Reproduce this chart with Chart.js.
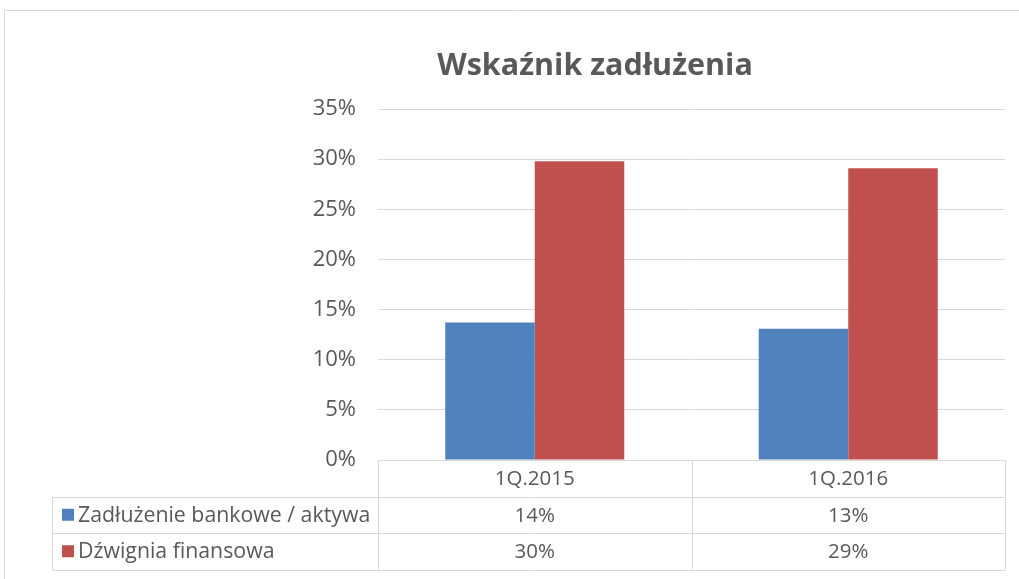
<!DOCTYPE html>
<html>
<head>
<meta charset="utf-8">
<script src="https://cdn.jsdelivr.net/npm/chart.js@4.4.0/dist/chart.umd.min.js"></script>
<style>
  html, body { margin: 0; padding: 0; background: #fff; }
  canvas { display: block; }
</style>
</head>
<body>
<canvas id="debtChart" width="1019" height="579"></canvas>
<script>
const categories = ['1Q.2015', '1Q.2016'];
const seriesNames = ['Zadłużenie bankowe / aktywa', 'Dźwignia finansowa'];
const bankDebt = [0.137, 0.131];
const leverage = [0.298, 0.291];
const seriesColors = ['#4f81bd', '#c0504d'];
const chartTitle = 'Wskaźnik zadłużenia';

const textColor = '#595959';
const lineColor = '#d9d9d9';
const fontFamily = '"Open Sans", sans-serif';

function pct(v) {
  return Math.round(v * 100) + '%';
}

// Draws the outer frame, the title and the data table under the plot
const dataTablePlugin = {
  id: 'dataTable',
  afterDraw(chart) {
    const ctx = chart.ctx;
    const area = chart.chartArea;
    const xScale = chart.scales.x;
    const rowH = 36.5;
    const top = area.bottom;
    const rows = [top, top + rowH, top + rowH * 2, top + rowH * 3];
    const legendLeft = 52;

    ctx.save();
    ctx.strokeStyle = lineColor;
    ctx.lineWidth = 1;

    // outer chart frame
    ctx.beginPath();
    ctx.moveTo(4.5, 600);
    ctx.lineTo(4.5, 10.5);
    ctx.lineTo(1030, 10.5);
    ctx.stroke();

    // title
    ctx.fillStyle = textColor;
    ctx.font = 'bold 30.5px ' + fontFamily;
    ctx.textAlign = 'center';
    ctx.textBaseline = 'middle';
    ctx.fillText(chartTitle, 595, 66);

    // horizontal table lines
    ctx.beginPath();
    ctx.moveTo(area.left, Math.round(rows[0]) + 0.5);
    ctx.lineTo(area.right, Math.round(rows[0]) + 0.5);
    for (let i = 1; i < rows.length; i++) {
      const y = Math.round(rows[i]) + 0.5;
      ctx.moveTo(legendLeft, y);
      ctx.lineTo(area.right, y);
    }
    // vertical table lines
    const bounds = [area.left];
    for (let i = 0; i < categories.length; i++) {
      const c = xScale.getPixelForValue(i);
      bounds.push(c + (c - bounds[bounds.length - 1]));
    }
    bounds.forEach(x => {
      const xx = Math.round(x) + 0.5;
      ctx.moveTo(xx, rows[0]);
      ctx.lineTo(xx, rows[3]);
    });
    ctx.moveTo(legendLeft + 0.5, rows[1]);
    ctx.lineTo(legendLeft + 0.5, rows[3]);
    ctx.stroke();

    // texts
    const cellFont = '20.5px ' + fontFamily;
    ctx.fillStyle = textColor;
    ctx.font = cellFont;
    ctx.textBaseline = 'middle';
    ctx.textAlign = 'center';
    categories.forEach((cat, i) => {
      const x = xScale.getPixelForValue(i);
      ctx.fillText(cat, x, rows[0] + rowH / 2 + 1);
    });
    chart.data.datasets.forEach((ds, r) => {
      const yMid = rows[r + 1] + rowH / 2 + 1;
      ctx.textAlign = 'center';
      ctx.fillStyle = textColor;
      ctx.font = cellFont;
      ds.data.forEach((v, i) => {
        ctx.fillText(pct(v), xScale.getPixelForValue(i), yMid);
      });
      ctx.fillStyle = ds.backgroundColor;
      ctx.fillRect(62, yMid - 7, 12, 12);
      ctx.fillStyle = textColor;
      ctx.textAlign = 'left';
      ctx.font = '21.3px ' + fontFamily;
      ctx.fillText(ds.label, 78, yMid);
    });
    ctx.restore();
  }
};

new Chart(document.getElementById('debtChart'), {
  type: 'bar',
  data: {
    labels: categories,
    datasets: [
      {
        label: seriesNames[0],
        data: bankDebt,
        backgroundColor: seriesColors[0],
        barPercentage: 1,
        categoryPercentage: 0.571
      },
      {
        label: seriesNames[1],
        data: leverage,
        backgroundColor: seriesColors[1],
        barPercentage: 1,
        categoryPercentage: 0.571
      }
    ]
  },
  options: {
    responsive: false,
    animation: false,
    layout: {
      padding: { left: 0, right: 14, top: 109, bottom: 119 }
    },
    plugins: {
      legend: { display: false },
      tooltip: { enabled: false },
      title: { display: false }
    },
    scales: {
      x: {
        display: false
      },
      y: {
        min: 0,
        max: 0.35,
        border: { display: false },
        grid: { color: lineColor, drawTicks: false },
        afterFit(scale) { scale.width = 378; },
        ticks: {
          stepSize: 0.05,
          padding: 22,
          color: textColor,
          font: { family: fontFamily, size: 22 },
          callback: function(value) {
            return pct(value);
          }
        }
      }
    }
  },
  plugins: [dataTablePlugin]
});
</script>
</body>
</html>
